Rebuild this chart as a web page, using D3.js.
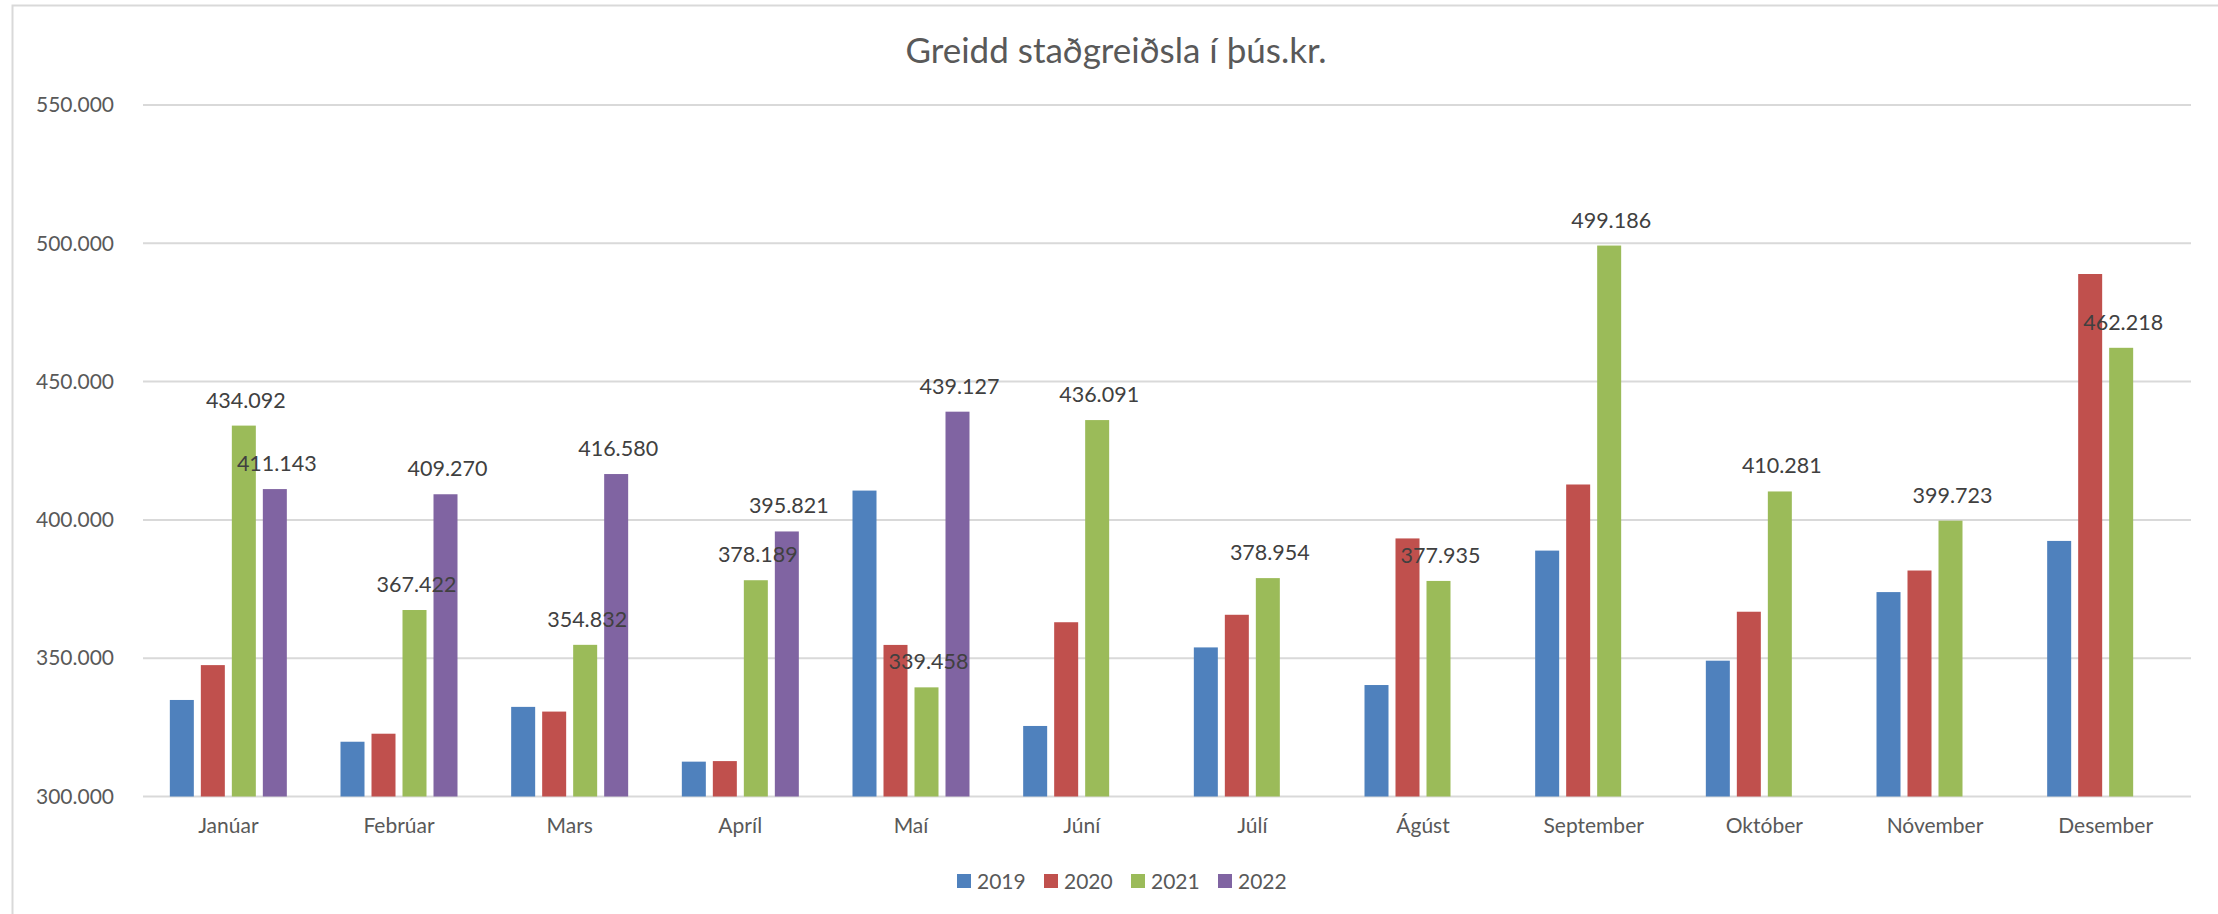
<!DOCTYPE html>
<html>
<head>
<meta charset="utf-8">
<script src="https://cdn.jsdelivr.net/npm/d3@7"></script>
<style>
body{margin:0;background:#fff;}
text{font-family:Lato,"Open Sans",sans-serif;}
</style>
</head>
<body>
<script>
var w=2218;
var h=914;

var months=["Janúar","Febrúar","Mars","Apríl","Maí","Júní","Júlí","Ágúst","September","Október","Nóvember","Desember"];
var years=["2019","2020","2021","2022"];
var colors=["#4F81BD","#C0504D","#9BBB59","#8064A2"];

var v2019=[334900,319800,332400,312600,410600,325500,353900,340300,388900,349100,373900,392400];
var v2020=[347500,322700,330700,312800,354800,363000,365700,393300,412800,366800,381700,488900];
var v2021=[434092,367422,354832,378189,339458,436091,378954,377935,499186,410281,399723,462218];
var v2022=[411143,409270,416580,395821,439127,null,null,null,null,null,null,null];
var values=[v2019,v2020,v2021,v2022];
// only these series carry data labels
var labelled=["2021","2022"];

var yTicks=[300000,350000,400000,450000,500000,550000];

var loc=d3.formatLocale({decimal:",",thousands:".",grouping:[3],currency:["",""]});
var fmt=loc.format(",.0f");

var svg=d3.select("body").append("svg")
	.attr("width",w)
	.attr("height",h);

// chart frame
svg.append("rect")
	.attr("x",12.5).attr("y",5.5)
	.attr("width",w+20).attr("height",h+20)
	.attr("fill","#fff")
	.attr("stroke","#d9d9d9")
	.attr("stroke-width",2);

var pLeft=143, pRight=2191, pTop=105, pBottom=796.5;
var step=(pRight-pLeft)/12;
var pad=1-117/step;

var x0=d3.scaleBand().domain(months).range([pLeft,pRight])
	.paddingInner(pad).paddingOuter(pad/2);
var x1=d3.scaleBand().domain(years).range([0,x0.bandwidth()])
	.paddingInner(7/31).paddingOuter(0);
var y=d3.scaleLinear().domain([300000,550000]).range([pBottom,pTop]);

// gridlines
svg.append("g").selectAll("line")
	.data(yTicks)
	.enter().append("line")
	.attr("x1",pLeft).attr("x2",pRight)
	.attr("y1",function(d){return y(d);})
	.attr("y2",function(d){return y(d);})
	.attr("stroke","#d9d9d9")
	.attr("stroke-width",2);

// y axis labels
var yAxis=d3.axisLeft(y).tickValues(yTicks).tickFormat(fmt).tickSize(0).tickPadding(29);
var ya=svg.append("g").attr("transform","translate("+pLeft+",0)").call(yAxis);
ya.select(".domain").remove();
ya.selectAll("text")
	.attr("fill","#595959")
	.style("font-size","21px")
	.style("font-family","Lato");

// x axis labels
var xAxis=d3.axisBottom(x0).tickSize(0).tickPadding(22);
var xa=svg.append("g").attr("transform","translate(0,"+pBottom+")").call(xAxis);
xa.select(".domain").remove();
xa.selectAll("text")
	.attr("fill","#595959")
	.style("font-size","21px")
	.style("font-family","Lato");

// bars
var rows=[];
years.forEach(function(yr,si){
	months.forEach(function(m,mi){
		if(values[si][mi]!=null) rows.push({year:yr,month:m,value:values[si][mi],color:colors[si]});
	});
});

svg.append("g").selectAll("rect")
	.data(rows)
	.enter().append("rect")
	.attr("x",function(d){return x0(d.month)+x1(d.year);})
	.attr("y",function(d){return y(d.value);})
	.attr("width",x1.bandwidth())
	.attr("height",function(d){return pBottom-y(d.value);})
	.attr("fill",function(d){return d.color;});

// data labels
svg.append("g").selectAll("text")
	.data(rows.filter(function(d){return labelled.indexOf(d.year)>=0;}))
	.enter().append("text")
	.attr("x",function(d){return x0(d.month)+x1(d.year)+x1.bandwidth()/2+2;})
	.attr("y",function(d){return y(d.value)-18;})
	.attr("text-anchor","middle")
	.attr("fill","#404040")
	.style("font-size","21.5px")
	.text(function(d){return fmt(d.value);});

// title
svg.append("text")
	.attr("x",1116).attr("y",63)
	.attr("text-anchor","middle")
	.attr("fill","#595959")
	.style("font-size","35px")
	.text("Greidd staðgreiðsla í þús.kr.");

// legend
var leg=svg.append("g").selectAll("g")
	.data(years)
	.enter().append("g")
	.attr("transform",function(d,i){return "translate("+(957+i*87)+",874)";});
leg.append("rect")
	.attr("width",14).attr("height",14)
	.attr("fill",function(d,i){return colors[i];});
leg.append("text")
	.attr("x",20).attr("y",15)
	.attr("fill","#595959")
	.style("font-size","21px")
	.text(function(d){return d;});
</script>
</body>
</html>
